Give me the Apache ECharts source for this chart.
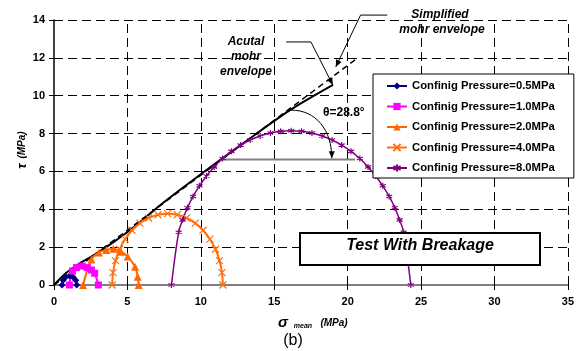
<!DOCTYPE html>
<html><head><meta charset="utf-8">
<script src="https://cdn.jsdelivr.net/npm/echarts@6/dist/echarts.min.js"></script>
<style>html,body{margin:0;padding:0;background:#fff}#c{width:577px;height:351px}</style>
</head><body><div id="c"></div>
<script>
const FONT = '"Liberation Sans", Arial, sans-serif';
const xTicks = [0, 5, 10, 15, 20, 25, 30, 35];
const yTicks = [0, 2, 4, 6, 8, 10, 12, 14];
const seriesNames = ['Confinig Pressure=0.5MPa','Confinig Pressure=1.0MPa','Confinig Pressure=2.0MPa','Confinig Pressure=4.0MPa','Confinig Pressure=8.0MPa'];

const p05X = [0.55, 0.62, 0.80, 1.05, 1.30, 1.48, 1.55];
const p05Y = [0, 0.25, 0.42, 0.48, 0.42, 0.25, 0];
const p10X = [1.05, 1.26, 1.53, 1.92, 2.27, 2.55, 2.77, 3.02];
const p10Y = [0, 0.74, 0.92, 1.00, 0.92, 0.79, 0.62, 0];
const p20X = [1.98, 2.55, 3.06, 3.56, 4.05, 4.57, 5.02, 5.52, 5.70, 5.77];
const p20Y = [0, 1.35, 1.72, 1.85, 1.92, 1.76, 1.50, 0.97, 0.44, 0];
const p40X = [3.96, 4.02, 4.19, 4.47, 4.84, 5.31, 5.85, 6.44, 7.08, 7.73, 8.39, 9.02, 9.62, 10.15, 10.62, 11.00, 11.27, 11.44, 11.50];
const p40Y = [0, 0.65, 1.29, 1.89, 2.42, 2.89, 3.27, 3.54, 3.71, 3.77, 3.71, 3.54, 3.27, 2.89, 2.42, 1.89, 1.29, 0.65, 0];
const p80X = [8.00, 8.49, 8.76, 9.09, 9.47, 9.91, 10.39, 10.91, 11.48, 12.08, 12.71, 13.36, 14.04, 14.74, 15.44, 16.15, 16.86, 17.57, 18.26, 18.94, 19.59, 20.23, 20.83, 21.39, 21.91, 22.39, 22.83, 23.21, 23.54, 23.81, 24.30];
const p80Y = [0, 2.79, 3.44, 4.08, 4.68, 5.24, 5.76, 6.24, 6.68, 7.06, 7.39, 7.66, 7.87, 8.03, 8.12, 8.15, 8.12, 8.03, 7.87, 7.66, 7.39, 7.06, 6.68, 6.24, 5.76, 5.24, 4.68, 4.08, 3.44, 2.79, 0];

const actualEnvX = [0, 0.8, 1.76, 2.8, 4.1, 5.8, 7.2, 10, 13, 16, 19];
const actualEnvY = [0, 0.62, 1.15, 1.62, 2.29, 3.28, 4.2, 5.85, 7.55, 9.2, 10.57];
const simpEnvX = [0, 20.6];
const simpEnvY = [0, 11.95];
const thetaRefX = [11.4, 20.5];
const thetaRefY = [6.63, 6.63];

function pairs(xs, ys) { return xs.map((x, i) => [x, ys[i]]); }

const xSym = 'path://M0,0L10,10M10,0L0,10';
const starSym = 'path://M5,0L5,10M0.7,2.5L9.3,7.5M9.3,2.5L0.7,7.5';

function mk(name, xs, ys, color, symbol, size, width, stroke) {
  return {
    name, type: 'line', data: pairs(xs, ys), smooth: 0.35,
    symbol, symbolSize: size, showSymbol: true,
    lineStyle: { color, width },
    itemStyle: stroke ? { color, borderColor: color, borderWidth: 1.2 } : { color },
    emphasis: { disabled: true }, z: 3
  };
}

const gridMarks = [].concat(
  xTicks.slice(1).map(v => ({ xAxis: v })),
  yTicks.slice(1).map(v => ({ yAxis: v }))
);

const chart = echarts.init(document.getElementById('c'), null, { renderer: 'canvas' });
const option = {
  animation: false,
  backgroundColor: '#fff',
  grid: { left: 54, right: 5, top: 20, bottom: 66, containLabel: false, show: false },
  xAxis: {
    type: 'value', min: xTicks[0], max: xTicks[xTicks.length - 1], interval: xTicks[1] - xTicks[0],
    axisLine: { show: true, lineStyle: { color: '#808080', width: 2 } },
    axisTick: { show: true, length: 5, lineStyle: { color: '#000', width: 1 } },
    axisLabel: { color: '#000', fontFamily: FONT, fontWeight: 'bold', fontSize: 11, margin: 11 },
    splitLine: { show: false }
  },
  yAxis: {
    type: 'value', min: yTicks[0], max: yTicks[yTicks.length - 1], interval: yTicks[1] - yTicks[0],
    axisLine: { show: true, onZero: false, lineStyle: { color: '#000', width: 1.5 } },
    axisTick: { show: true, length: 5, lineStyle: { color: '#000', width: 1 } },
    axisLabel: { color: '#000', fontFamily: FONT, fontWeight: 'bold', fontSize: 11, margin: 9 },
    splitLine: { show: false }
  },
  legend: {
    z: 30, zlevel: 0,
    data: seriesNames, orient: 'vertical', left: 373, top: 74,
    padding: [5, 19, 3, 13], itemGap: 6.5, itemWidth: 20, itemHeight: 9,
    backgroundColor: '#fff', borderColor: '#000', borderWidth: 1,
    textStyle: { fontFamily: FONT, fontWeight: 'bold', fontSize: 11.3, color: '#000', lineHeight: 14 },
    selectedMode: false
  },
  series: [
    {
      type: 'line', data: [[0, 0]], symbol: 'none', lineStyle: { opacity: 0 }, z: 1, silent: true,
      markLine: {
        z: 1, silent: true, symbol: ['none', 'none'], animation: false,
        label: { show: false },
        lineStyle: { color: '#000', type: [9, 5], width: 1 },
        emphasis: { disabled: true },
        data: gridMarks
      }
    },
    { type: 'line', data: pairs(simpEnvX, simpEnvY), symbol: 'none', lineStyle: { color: '#000', width: 1.5, type: [6, 4] }, z: 2, silent: true },
    { type: 'line', data: pairs(actualEnvX, actualEnvY), symbol: 'none', smooth: 0.3, lineStyle: { color: '#000', width: 2 }, z: 2, silent: true },
    { type: 'line', data: pairs(thetaRefX, thetaRefY), symbol: 'none', lineStyle: { color: '#808080', width: 2 }, z: 2, silent: true },
    mk(seriesNames[0], p05X, p05Y, '#000080', 'diamond', 7, 2, false),
    mk(seriesNames[1], p10X, p10Y, '#FF00FF', 'rect', 7, 2, false),
    mk(seriesNames[2], p20X, p20Y, '#FF6600', 'triangle', 8, 2, false),
    mk(seriesNames[3], p40X, p40Y, '#FF6F10', xSym, 7, 2, true),
    mk(seriesNames[4], p80X, p80Y, '#800080', starSym, 6, 1.5, true)
  ]
};
chart.setOption(option);

const px = p => chart.convertToPixel({ xAxisIndex: 0, yAxisIndex: 0 }, p);
function arrowHead(P, Q, L, W) {
  const a = Math.atan2(P[1] - Q[1], P[0] - Q[0]);
  const bx = P[0] - L * Math.cos(a), by = P[1] - L * Math.sin(a);
  const nx = -Math.sin(a) * W, ny = Math.cos(a) * W;
  return { type: 'polygon', z: 50, shape: { points: [P, [bx + nx, by + ny], [bx - nx, by - ny]] }, style: { fill: '#000' } };
}
function leader(dataPts) {
  const pts = dataPts.map(px);
  return [
    { type: 'polyline', z: 50, shape: { points: pts }, style: { stroke: '#000', lineWidth: 1, fill: null } },
    arrowHead(pts[pts.length - 1], pts[pts.length - 2], 7, 3)
  ];
}
const actualLeader = [[15.81, 12.84], [17.5, 12.84], [18.99, 10.57]];
const simpLeader = [[22.7, 14.26], [20.88, 14.26], [19.19, 11.52]];
const arcS = px([16.15, 9.24]), arcC1 = px([17.84, 9.24]), arcC2 = px([18.92, 8.19]), arcE = px([18.92, 6.70]);

function txt(text, x, y, size) {
  return { type: 'text', z: 60, x, y, style: { text, fill: '#000', font: `bold italic ${size}px ${FONT}`, align: 'center', verticalAlign: 'middle' } };
}

const graphics = [].concat(
  leader(actualLeader),
  leader(simpLeader),
  [
    { type: 'bezierCurve', z: 50, shape: { x1: arcS[0], y1: arcS[1], cpx1: arcC1[0], cpy1: arcC1[1], cpx2: arcC2[0], cpy2: arcC2[1], x2: arcE[0], y2: arcE[1] }, style: { stroke: '#000', lineWidth: 1, fill: null } },
    arrowHead(arcE, arcC2, 7, 3),
    txt('Acutal', 246, 42, 12),
    txt('mohr', 246, 57, 12),
    txt('envelope', 246, 72, 12),
    txt('Simplified', 440, 15, 12),
    txt('mohr envelope', 442, 30, 12),
    { type: 'text', z: 60, x: 323, y: 113, style: { text: 'θ=28.8°', fill: '#000', font: `bold 12px ${FONT}`, align: 'left', verticalAlign: 'middle' } },
    { type: 'rect', z: 60, shape: { x: 300, y: 233, width: 240, height: 32 }, style: { fill: '#fff', stroke: '#000', lineWidth: 2 } },
    { type: 'text', z: 61, x: 420, y: 246, style: { text: 'Test With Breakage', fill: '#000', font: `bold italic 16px ${FONT}`, align: 'center', verticalAlign: 'middle' } },
    txt('σ', 283, 323, 15),
    txt('mean', 303, 326, 7),
    txt('(MPa)', 334, 323, 10),
    { type: 'text', z: 60, x: 293, y: 341, style: { text: '(b)', fill: '#000', font: `16px ${FONT}`, align: 'center', verticalAlign: 'middle' } },
    { type: 'text', z: 60, x: 22, y: 166, rotation: Math.PI / 2, style: { text: 'τ', fill: '#000', font: `bold italic 13px ${FONT}`, align: 'center', verticalAlign: 'middle' } },
    { type: 'text', z: 60, x: 22, y: 145, rotation: Math.PI / 2, style: { text: '(MPa)', fill: '#000', font: `bold italic 10px ${FONT}`, align: 'center', verticalAlign: 'middle' } }
  ]
);
chart.setOption({ graphic: { elements: graphics } });
</script>
</body></html>
